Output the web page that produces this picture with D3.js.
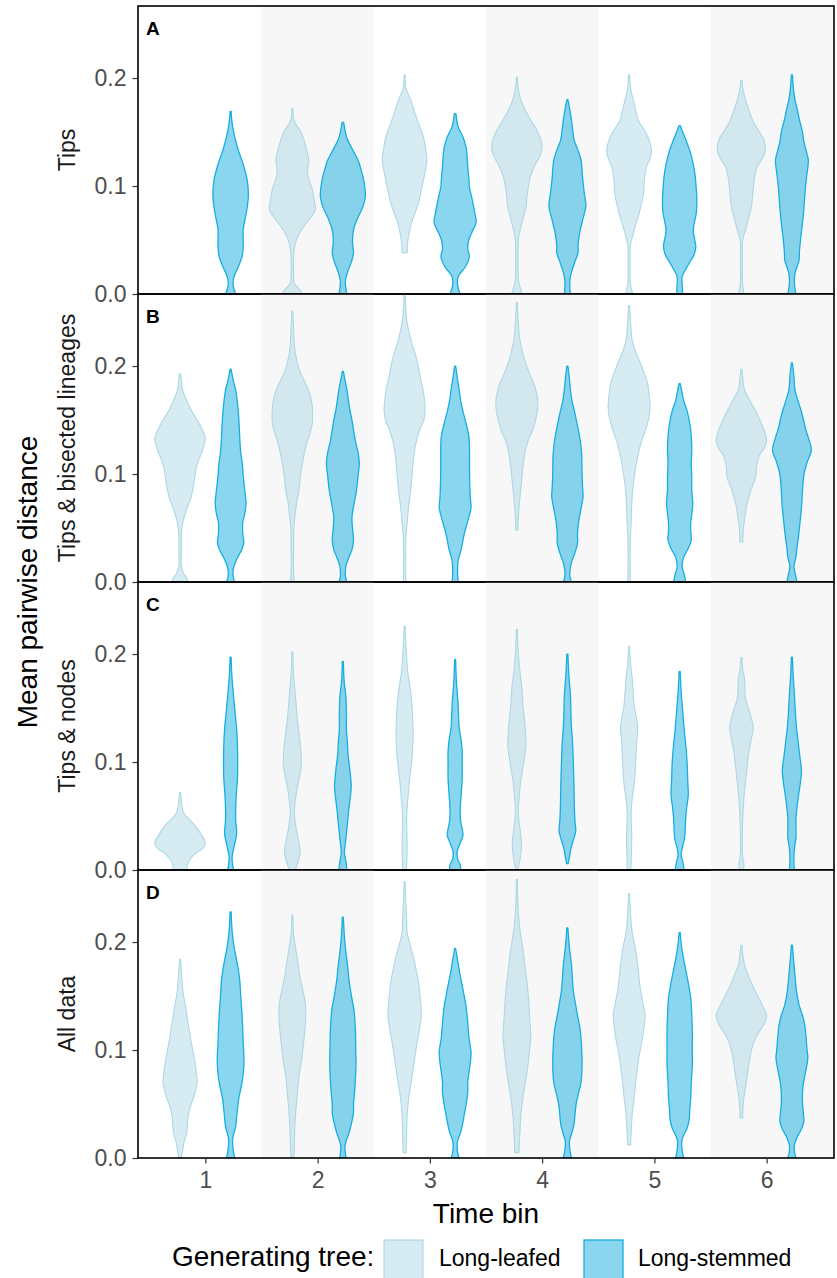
<!DOCTYPE html>
<html>
<head>
<meta charset="utf-8">
<script src="https://cdn.jsdelivr.net/npm/d3@7"></script>
<style>
  html, body { margin: 0; padding: 0; background: #ffffff; }
  svg { display: block; }
  text { font-family: "Liberation Sans", Arial, Helvetica, sans-serif; }
</style>
</head>
<body>
<svg id="chart" width="837" height="1278"></svg>
<script>
// ---- data -----------------------------------------------------------------
const panelKeys = ["A", "B", "C", "D"];
const panelTitles = ["Tips", "Tips & bisected lineages", "Tips & nodes", "All data"];
const timeBins = [1, 2, 3, 4, 5, 6];
const treeTypes = ["Long-leafed", "Long-stemmed"];
const yTicks = [0, 0.1, 0.2];
const yTickLabels = ["0.0", "0.1", "0.2"];
const shadedBins = [2, 4, 6];

// Violin profiles, one per time bin: [mean pairwise distance, relative density]
// listed from the top of each violin downwards (null = no violin).
const tipsLeafed = [
  null,
  [[0.172,0.02],[0.16,0.08],[0.149,0.36],[0.135,0.55],[0.124,0.65],[0.112,0.6],[0.096,0.8],[0.085,0.88],[0.078,0.91],[0.07,0.7],[0.062,0.44],[0.05,0.16],[0.04,0.07],[0.02,0.05],[0.01,0.08],[0.004,0.3],[0,0.4]],
  [[0.203,0.02],[0.19,0.06],[0.18,0.24],[0.168,0.4],[0.155,0.6],[0.145,0.75],[0.136,0.82],[0.124,0.88],[0.112,0.8],[0.096,0.66],[0.085,0.56],[0.078,0.46],[0.068,0.3],[0.059,0.2],[0.048,0.12],[0.038,0.1]],
  [[0.201,0.02],[0.19,0.06],[0.18,0.16],[0.17,0.34],[0.161,0.55],[0.152,0.78],[0.143,0.95],[0.135,1.0],[0.127,0.9],[0.118,0.69],[0.108,0.53],[0.1,0.46],[0.09,0.4],[0.081,0.37],[0.072,0.27],[0.062,0.16],[0.05,0.06],[0.04,0.05],[0.02,0.05],[0.01,0.08],[0.004,0.16],[0,0.2]],
  [[0.203,0.02],[0.19,0.06],[0.18,0.16],[0.17,0.26],[0.161,0.36],[0.149,0.67],[0.14,0.83],[0.133,0.89],[0.125,0.82],[0.118,0.69],[0.105,0.6],[0.093,0.57],[0.083,0.48],[0.075,0.4],[0.065,0.27],[0.056,0.16],[0.045,0.05],[0.03,0.04],[0.01,0.05],[0.004,0.1],[0,0.14]],
  [[0.198,0.02],[0.19,0.06],[0.18,0.16],[0.17,0.3],[0.161,0.44],[0.152,0.66],[0.143,0.89],[0.133,0.95],[0.125,0.82],[0.118,0.63],[0.108,0.52],[0.1,0.48],[0.09,0.44],[0.081,0.4],[0.07,0.28],[0.059,0.16],[0.05,0.05],[0.03,0.04],[0.01,0.04],[0.004,0.08],[0,0.1]]
];
const tipsStemmed = [
  [[0.169,0.02],[0.155,0.08],[0.135,0.28],[0.12,0.5],[0.105,0.66],[0.09,0.7],[0.075,0.62],[0.06,0.5],[0.045,0.5],[0.035,0.46],[0.025,0.3],[0.015,0.12],[0.008,0.1],[0,0.2]],
  [[0.159,0.03],[0.15,0.1],[0.143,0.18],[0.133,0.4],[0.124,0.6],[0.115,0.72],[0.106,0.82],[0.09,0.89],[0.08,0.78],[0.071,0.6],[0.062,0.45],[0.056,0.4],[0.048,0.38],[0.038,0.42],[0.03,0.34],[0.02,0.18],[0.012,0.1],[0.005,0.12],[0,0.16]],
  [[0.167,0.03],[0.155,0.12],[0.146,0.3],[0.135,0.44],[0.118,0.5],[0.105,0.55],[0.1,0.56],[0.087,0.68],[0.075,0.78],[0.066,0.83],[0.057,0.66],[0.05,0.54],[0.042,0.5],[0.034,0.56],[0.025,0.4],[0.016,0.12],[0.008,0.1],[0,0.2]],
  [[0.18,0.02],[0.17,0.1],[0.161,0.16],[0.15,0.22],[0.143,0.26],[0.133,0.42],[0.124,0.54],[0.115,0.58],[0.108,0.6],[0.095,0.66],[0.081,0.73],[0.07,0.62],[0.056,0.48],[0.045,0.42],[0.038,0.42],[0.03,0.3],[0.02,0.16],[0.013,0.1],[0.005,0.1],[0,0.12]],
  [[0.156,0.02],[0.15,0.12],[0.143,0.24],[0.133,0.4],[0.124,0.5],[0.115,0.58],[0.108,0.62],[0.097,0.66],[0.087,0.68],[0.075,0.66],[0.066,0.58],[0.058,0.54],[0.05,0.6],[0.044,0.64],[0.037,0.58],[0.031,0.44],[0.022,0.22],[0.016,0.1],[0.008,0.1],[0,0.12]],
  [[0.203,0.02],[0.19,0.06],[0.18,0.12],[0.17,0.22],[0.161,0.3],[0.15,0.42],[0.143,0.46],[0.133,0.56],[0.124,0.65],[0.112,0.6],[0.1,0.54],[0.088,0.5],[0.075,0.46],[0.062,0.4],[0.05,0.34],[0.04,0.3],[0.031,0.28],[0.025,0.2],[0.019,0.12],[0.01,0.1],[0,0.16]]
];
const bisectedLeafed = [
  [[0.193,0.02],[0.185,0.06],[0.178,0.1],[0.168,0.26],[0.159,0.44],[0.147,0.75],[0.14,0.9],[0.133,1.0],[0.122,0.89],[0.11,0.69],[0.1,0.6],[0.092,0.55],[0.079,0.44],[0.07,0.3],[0.06,0.16],[0.048,0.06],[0.03,0.05],[0.015,0.05],[0.008,0.14],[0.003,0.28],[0,0.32]],
  [[0.251,0.02],[0.23,0.06],[0.215,0.1],[0.203,0.2],[0.193,0.34],[0.185,0.5],[0.178,0.63],[0.17,0.74],[0.162,0.79],[0.147,0.79],[0.138,0.7],[0.131,0.6],[0.12,0.48],[0.11,0.4],[0.098,0.32],[0.085,0.26],[0.072,0.16],[0.06,0.1],[0.05,0.06],[0.03,0.05],[0.01,0.05],[0,0.08]],
  [[0.27,0.02],[0.255,0.04],[0.24,0.1],[0.225,0.24],[0.208,0.46],[0.19,0.62],[0.178,0.73],[0.168,0.79],[0.159,0.81],[0.15,0.76],[0.141,0.6],[0.128,0.44],[0.116,0.36],[0.1,0.3],[0.085,0.24],[0.07,0.16],[0.055,0.1],[0.04,0.05],[0.02,0.04],[0,0.05]],
  [[0.259,0.02],[0.24,0.06],[0.224,0.12],[0.213,0.22],[0.203,0.34],[0.193,0.5],[0.184,0.67],[0.176,0.77],[0.168,0.83],[0.158,0.81],[0.153,0.77],[0.141,0.63],[0.132,0.46],[0.122,0.34],[0.11,0.26],[0.097,0.2],[0.085,0.15],[0.073,0.1],[0.06,0.06],[0.048,0.04]],
  [[0.256,0.02],[0.24,0.06],[0.224,0.12],[0.213,0.26],[0.203,0.44],[0.193,0.6],[0.184,0.73],[0.172,0.8],[0.162,0.83],[0.152,0.78],[0.141,0.65],[0.128,0.46],[0.116,0.34],[0.1,0.22],[0.085,0.14],[0.07,0.1],[0.055,0.08],[0.04,0.05],[0.02,0.04],[0,0.05]],
  [[0.197,0.02],[0.188,0.06],[0.178,0.12],[0.168,0.34],[0.159,0.55],[0.147,0.79],[0.139,0.92],[0.131,1.0],[0.124,0.9],[0.116,0.69],[0.107,0.6],[0.097,0.57],[0.088,0.42],[0.079,0.3],[0.07,0.2],[0.06,0.14],[0.05,0.08],[0.037,0.06]]
];
const bisectedStemmed = [
  [[0.197,0.02],[0.185,0.12],[0.178,0.2],[0.168,0.26],[0.159,0.3],[0.145,0.34],[0.134,0.36],[0.12,0.4],[0.11,0.46],[0.098,0.5],[0.085,0.56],[0.073,0.61],[0.063,0.56],[0.055,0.48],[0.045,0.48],[0.036,0.52],[0.029,0.42],[0.023,0.28],[0.015,0.14],[0.011,0.1],[0.005,0.1],[0,0.16]],
  [[0.195,0.02],[0.185,0.1],[0.178,0.16],[0.168,0.22],[0.159,0.28],[0.15,0.36],[0.141,0.42],[0.13,0.5],[0.12,0.6],[0.11,0.65],[0.098,0.6],[0.085,0.54],[0.072,0.44],[0.06,0.36],[0.05,0.38],[0.039,0.42],[0.03,0.36],[0.023,0.24],[0.015,0.12],[0.011,0.1],[0.005,0.1],[0,0.16]],
  [[0.2,0.02],[0.19,0.08],[0.178,0.16],[0.168,0.22],[0.159,0.3],[0.148,0.42],[0.134,0.55],[0.12,0.57],[0.104,0.57],[0.09,0.58],[0.078,0.6],[0.069,0.63],[0.058,0.52],[0.048,0.4],[0.04,0.32],[0.03,0.24],[0.02,0.12],[0.014,0.1],[0.006,0.1],[0,0.12]],
  [[0.2,0.02],[0.188,0.08],[0.178,0.12],[0.168,0.18],[0.158,0.28],[0.147,0.38],[0.135,0.48],[0.125,0.54],[0.116,0.57],[0.1,0.58],[0.088,0.6],[0.079,0.62],[0.068,0.54],[0.055,0.44],[0.045,0.4],[0.036,0.4],[0.027,0.3],[0.018,0.16],[0.01,0.1],[0.005,0.1],[0,0.16]],
  [[0.184,0.02],[0.175,0.1],[0.168,0.16],[0.158,0.3],[0.147,0.4],[0.135,0.46],[0.122,0.48],[0.11,0.46],[0.097,0.48],[0.085,0.48],[0.073,0.52],[0.063,0.48],[0.055,0.44],[0.047,0.44],[0.039,0.46],[0.031,0.34],[0.023,0.16],[0.014,0.1],[0.007,0.18],[0,0.24]],
  [[0.203,0.02],[0.19,0.08],[0.178,0.12],[0.168,0.24],[0.159,0.36],[0.15,0.46],[0.141,0.55],[0.133,0.66],[0.122,0.77],[0.112,0.62],[0.1,0.48],[0.085,0.42],[0.069,0.38],[0.055,0.32],[0.042,0.26],[0.032,0.2],[0.023,0.16],[0.014,0.08],[0.007,0.14],[0,0.2]]
];
const nodesLeafed = [
  [[0.072,0.02],[0.062,0.06],[0.053,0.14],[0.046,0.4],[0.04,0.63],[0.033,0.83],[0.025,1.0],[0.019,0.85],[0.016,0.63],[0.01,0.4],[0.006,0.3],[0,0.26]],
  [[0.202,0.02],[0.185,0.04],[0.167,0.1],[0.15,0.16],[0.139,0.2],[0.12,0.3],[0.11,0.34],[0.099,0.36],[0.088,0.3],[0.077,0.2],[0.065,0.12],[0.053,0.08],[0.04,0.14],[0.028,0.24],[0.018,0.31],[0.01,0.26],[0.003,0.16],[0,0.12]],
  [[0.226,0.02],[0.205,0.06],[0.184,0.12],[0.165,0.24],[0.147,0.31],[0.135,0.33],[0.125,0.34],[0.113,0.32],[0.101,0.28],[0.085,0.2],[0.069,0.14],[0.058,0.1],[0.048,0.08],[0.035,0.09],[0.023,0.1],[0.01,0.09],[0,0.07]],
  [[0.223,0.02],[0.2,0.06],[0.184,0.12],[0.168,0.2],[0.153,0.24],[0.14,0.3],[0.128,0.34],[0.116,0.36],[0.104,0.3],[0.092,0.22],[0.08,0.14],[0.069,0.1],[0.058,0.06],[0.048,0.07],[0.035,0.14],[0.023,0.18],[0.012,0.14],[0.005,0.08],[0,0.05]],
  [[0.207,0.02],[0.19,0.06],[0.178,0.12],[0.165,0.16],[0.153,0.2],[0.142,0.28],[0.132,0.34],[0.12,0.3],[0.101,0.26],[0.09,0.24],[0.079,0.2],[0.066,0.12],[0.055,0.08],[0.045,0.08],[0.035,0.1],[0.023,0.1],[0.01,0.08],[0,0.07]],
  [[0.197,0.02],[0.185,0.06],[0.178,0.12],[0.168,0.14],[0.159,0.16],[0.147,0.32],[0.14,0.4],[0.132,0.47],[0.122,0.4],[0.11,0.3],[0.098,0.24],[0.085,0.18],[0.072,0.12],[0.06,0.08],[0.045,0.05],[0.03,0.04],[0.015,0.04],[0.005,0.1],[0,0.08]]
];
const nodesStemmed = [
  [[0.197,0.02],[0.18,0.05],[0.16,0.12],[0.145,0.18],[0.13,0.24],[0.115,0.27],[0.099,0.28],[0.085,0.27],[0.068,0.22],[0.056,0.2],[0.046,0.2],[0.034,0.24],[0.024,0.16],[0.012,0.06],[0.005,0.08],[0,0.12]],
  [[0.193,0.02],[0.175,0.05],[0.16,0.12],[0.145,0.14],[0.13,0.14],[0.118,0.18],[0.108,0.2],[0.092,0.28],[0.077,0.33],[0.065,0.28],[0.053,0.22],[0.043,0.18],[0.034,0.14],[0.025,0.1],[0.016,0.06],[0.008,0.12],[0,0.16]],
  [[0.195,0.02],[0.175,0.05],[0.153,0.12],[0.14,0.14],[0.132,0.16],[0.12,0.24],[0.11,0.28],[0.098,0.28],[0.085,0.28],[0.07,0.24],[0.055,0.2],[0.045,0.22],[0.038,0.28],[0.032,0.31],[0.025,0.2],[0.017,0.08],[0.01,0.1],[0.005,0.2],[0,0.22]],
  [[0.2,0.02],[0.18,0.06],[0.162,0.12],[0.145,0.14],[0.132,0.16],[0.12,0.2],[0.11,0.22],[0.095,0.24],[0.079,0.26],[0.065,0.27],[0.055,0.28],[0.045,0.3],[0.036,0.33],[0.028,0.24],[0.02,0.14],[0.012,0.08],[0.006,0.03]],
  [[0.184,0.02],[0.165,0.06],[0.147,0.12],[0.13,0.18],[0.116,0.24],[0.105,0.28],[0.097,0.3],[0.083,0.32],[0.069,0.34],[0.058,0.28],[0.048,0.24],[0.038,0.22],[0.03,0.2],[0.022,0.12],[0.014,0.06],[0.008,0.12],[0,0.18]],
  [[0.197,0.02],[0.18,0.05],[0.162,0.1],[0.145,0.14],[0.132,0.18],[0.124,0.22],[0.116,0.26],[0.104,0.32],[0.092,0.38],[0.08,0.33],[0.069,0.26],[0.058,0.2],[0.048,0.16],[0.038,0.16],[0.03,0.16],[0.02,0.1],[0.014,0.08],[0.006,0.08],[0,0.1]]
];
const allLeafed = [
  [[0.184,0.02],[0.17,0.06],[0.153,0.12],[0.14,0.22],[0.13,0.28],[0.122,0.34],[0.11,0.42],[0.1,0.5],[0.091,0.57],[0.08,0.64],[0.069,0.67],[0.058,0.56],[0.05,0.44],[0.044,0.36],[0.035,0.3],[0.023,0.26],[0.015,0.16],[0.007,0.1],[0,0.04]],
  [[0.225,0.02],[0.205,0.06],[0.19,0.16],[0.178,0.24],[0.168,0.3],[0.155,0.42],[0.145,0.5],[0.137,0.53],[0.125,0.52],[0.106,0.44],[0.09,0.36],[0.075,0.26],[0.06,0.2],[0.044,0.14],[0.03,0.1],[0.014,0.08],[0.001,0.06]],
  [[0.256,0.02],[0.235,0.05],[0.22,0.08],[0.209,0.1],[0.197,0.22],[0.185,0.36],[0.175,0.45],[0.163,0.55],[0.15,0.61],[0.132,0.66],[0.118,0.58],[0.102,0.46],[0.086,0.36],[0.07,0.26],[0.055,0.16],[0.04,0.1],[0.025,0.08],[0.005,0.06]],
  [[0.258,0.02],[0.235,0.04],[0.216,0.1],[0.205,0.16],[0.194,0.24],[0.178,0.32],[0.163,0.4],[0.148,0.46],[0.132,0.5],[0.118,0.54],[0.111,0.55],[0.1,0.5],[0.086,0.44],[0.07,0.34],[0.056,0.24],[0.04,0.16],[0.024,0.12],[0.005,0.08]],
  [[0.245,0.02],[0.225,0.06],[0.209,0.12],[0.195,0.24],[0.179,0.34],[0.165,0.4],[0.154,0.46],[0.142,0.56],[0.132,0.63],[0.12,0.58],[0.111,0.53],[0.098,0.42],[0.086,0.34],[0.07,0.26],[0.056,0.2],[0.04,0.12],[0.024,0.08],[0.012,0.06]],
  [[0.197,0.02],[0.188,0.06],[0.179,0.12],[0.17,0.26],[0.16,0.44],[0.148,0.69],[0.14,0.86],[0.132,1.0],[0.124,0.9],[0.117,0.71],[0.108,0.5],[0.098,0.38],[0.088,0.3],[0.08,0.26],[0.068,0.18],[0.056,0.1],[0.045,0.06],[0.037,0.05]]
];
const allStemmed = [
  [[0.228,0.02],[0.21,0.06],[0.195,0.14],[0.183,0.24],[0.175,0.3],[0.165,0.36],[0.15,0.4],[0.137,0.44],[0.12,0.48],[0.106,0.5],[0.091,0.53],[0.078,0.5],[0.066,0.42],[0.055,0.32],[0.047,0.28],[0.038,0.24],[0.029,0.2],[0.022,0.12],[0.017,0.08],[0.008,0.1],[0,0.16]],
  [[0.223,0.02],[0.205,0.06],[0.19,0.12],[0.183,0.16],[0.175,0.2],[0.165,0.24],[0.15,0.34],[0.137,0.44],[0.125,0.48],[0.116,0.5],[0.1,0.51],[0.091,0.52],[0.075,0.5],[0.06,0.46],[0.05,0.42],[0.042,0.42],[0.032,0.34],[0.023,0.24],[0.015,0.12],[0.01,0.08],[0.004,0.1],[0,0.12]],
  [[0.194,0.02],[0.18,0.12],[0.169,0.2],[0.155,0.32],[0.139,0.44],[0.125,0.5],[0.111,0.55],[0.098,0.63],[0.088,0.6],[0.08,0.55],[0.07,0.5],[0.061,0.5],[0.05,0.44],[0.04,0.36],[0.03,0.28],[0.024,0.22],[0.016,0.1],[0.012,0.08],[0.005,0.1],[0,0.16]],
  [[0.213,0.02],[0.195,0.08],[0.179,0.16],[0.165,0.2],[0.154,0.24],[0.143,0.32],[0.132,0.4],[0.12,0.5],[0.111,0.54],[0.098,0.57],[0.086,0.58],[0.07,0.54],[0.06,0.44],[0.049,0.34],[0.04,0.3],[0.031,0.26],[0.022,0.16],[0.015,0.08],[0.007,0.1],[0,0.16]],
  [[0.209,0.02],[0.195,0.08],[0.179,0.2],[0.165,0.32],[0.148,0.44],[0.132,0.48],[0.117,0.5],[0.1,0.5],[0.086,0.5],[0.07,0.46],[0.056,0.44],[0.045,0.4],[0.036,0.38],[0.028,0.3],[0.02,0.14],[0.015,0.08],[0.007,0.1],[0,0.16]],
  [[0.197,0.02],[0.185,0.06],[0.169,0.12],[0.155,0.18],[0.142,0.28],[0.132,0.42],[0.123,0.51],[0.112,0.56],[0.1,0.6],[0.093,0.63],[0.082,0.56],[0.07,0.46],[0.061,0.42],[0.05,0.42],[0.04,0.46],[0.033,0.47],[0.026,0.36],[0.019,0.2],[0.012,0.1],[0.006,0.1],[0,0.16]]
];

// ---- layout & styles -------------------------------------------------------
const panelLeft = 138, panelRight = 834, panelTop = 6, panelH = 288;
const dodge = 0.225, violinWidth = 0.45;
const fills = { "Long-leafed": "#add8e6", "Long-stemmed": "#17aee0" };
const fillOpacity = { "Long-leafed": 0.5, "Long-stemmed": 0.5 };
const strokes = { "Long-leafed": "#add8e6", "Long-stemmed": "#17aee0" };
const strokeW = { "Long-leafed": 1.1, "Long-stemmed": 1.3 };
const panelData = [
  [tipsLeafed, tipsStemmed],
  [bisectedLeafed, bisectedStemmed],
  [nodesLeafed, nodesStemmed],
  [allLeafed, allStemmed]
];

const svg = d3.select("#chart");
const x = d3.scaleLinear().domain([0.4, 6.6]).range([panelLeft, panelRight]);
const unitPx = x(1) - x(0);
const lastBin = timeBins[timeBins.length - 1];

panelKeys.forEach((key, pi) => {
  const top = panelTop + pi * panelH;
  const bottom = top + panelH;
  const y = d3.scaleLinear().domain([0, 0.2667]).range([bottom, top]);
  const g = svg.append("g").attr("class", "panel panel-" + key);

  const clipId = "clip-" + key;
  svg.append("clipPath").attr("id", clipId)
    .append("rect").attr("x", panelLeft).attr("y", top)
    .attr("width", panelRight - panelLeft).attr("height", panelH);

  // alternating background bands (the last one runs to the panel edge)
  g.selectAll("rect.band").data(shadedBins).join("rect")
    .attr("class", "band")
    .attr("x", d => x(d - 0.5))
    .attr("y", top)
    .attr("width", d => (d === lastBin ? panelRight : x(d + 0.5)) - x(d - 0.5))
    .attr("height", panelH)
    .attr("fill", "#f7f7f7");

  const vg = g.append("g").attr("clip-path", `url(#${clipId})`);
  treeTypes.forEach((tree, ti) => {
    const profiles = panelData[pi][ti];
    timeBins.forEach((bin, bi) => {
      const prof = profiles[bi];
      if (!prof) return;
      const cx = x(bin + (ti === 0 ? -dodge : dodge));
      const half = violinWidth * unitPx / 2;
      const area = d3.area()
        .y(d => y(d[0]))
        .x0(d => cx - half * d[1])
        .x1(d => cx + half * d[1])
        .curve(d3.curveCatmullRom.alpha(0.5));
      vg.append("path")
        .attr("d", area(prof))
        .attr("fill", fills[tree])
        .attr("fill-opacity", fillOpacity[tree])
        .attr("stroke", strokes[tree])
        .attr("stroke-width", strokeW[tree])
        .attr("stroke-linejoin", "round");
    });
  });

  // y axis
  const yAxis = d3.axisLeft(y).tickValues(yTicks).tickSize(5.5).tickPadding(6)
    .tickFormat((d, i) => yTickLabels[i]);
  const ya = g.append("g").attr("transform", `translate(${panelLeft},0)`).call(yAxis);
  ya.select(".domain").remove();
  ya.selectAll(".tick line").attr("stroke", "#333333").attr("stroke-width", 1.2);
  ya.selectAll(".tick text").attr("fill", "#4d4d4d").attr("font-size", 23)
    .attr("font-family", "'Liberation Sans', Arial, sans-serif");

  // panel border
  g.append("rect").attr("x", panelLeft).attr("y", top)
    .attr("width", panelRight - panelLeft).attr("height", panelH)
    .attr("fill", "none").attr("stroke", "#000000").attr("stroke-width", 1.6);

  // panel tag
  g.append("text").attr("x", panelLeft + 8).attr("y", top + 29)
    .attr("font-size", 19).attr("font-weight", "bold").attr("fill", "#000")
    .text(key);

  // panel title on the left
  g.append("text")
    .attr("transform", `translate(75,${(top + bottom) / 2}) rotate(-90)`)
    .attr("text-anchor", "middle").attr("font-size", 23).attr("fill", "#1a1a1a")
    .text(panelTitles[pi]);
});

// x axis along the bottom panel
const plotBottom = panelTop + panelKeys.length * panelH;
const xAxis = d3.axisBottom(x).tickValues(timeBins).tickSize(5.5).tickPadding(8).tickFormat(d3.format("d"));
const xa = svg.append("g").attr("transform", `translate(0,${plotBottom})`).call(xAxis);
xa.select(".domain").remove();
xa.selectAll(".tick line").attr("stroke", "#333333").attr("stroke-width", 1.2);
xa.selectAll(".tick text").attr("fill", "#4d4d4d").attr("font-size", 23)
  .attr("font-family", "'Liberation Sans', Arial, sans-serif");

// axis titles
svg.append("text").attr("x", (panelLeft + panelRight) / 2).attr("y", 1223)
  .attr("text-anchor", "middle").attr("font-size", 28).attr("fill", "#000")
  .text("Time bin");
svg.append("text")
  .attr("transform", `translate(37,${(panelTop + plotBottom) / 2}) rotate(-90)`)
  .attr("text-anchor", "middle").attr("font-size", 28).attr("fill", "#000")
  .text("Mean pairwise distance");

// legend
const legend = svg.append("g").attr("class", "legend");
legend.append("text").attr("x", 172).attr("y", 1266).attr("font-size", 28).attr("fill", "#000")
  .text("Generating tree:");
const keyX = [384, 584], labelX = [439, 638];
treeTypes.forEach((tree, i) => {
  legend.append("rect").attr("x", keyX[i]).attr("y", 1240).attr("width", 39).attr("height", 40)
    .attr("fill", "#ffffff");
  legend.append("rect").attr("x", keyX[i]).attr("y", 1240).attr("width", 39).attr("height", 40)
    .attr("fill", fills[tree]).attr("fill-opacity", fillOpacity[tree])
    .attr("stroke", strokes[tree]).attr("stroke-width", strokeW[tree]);
  legend.append("text").attr("x", labelX[i]).attr("y", 1266).attr("font-size", 23).attr("fill", "#000")
    .text(tree);
});
</script>
</body>
</html>
